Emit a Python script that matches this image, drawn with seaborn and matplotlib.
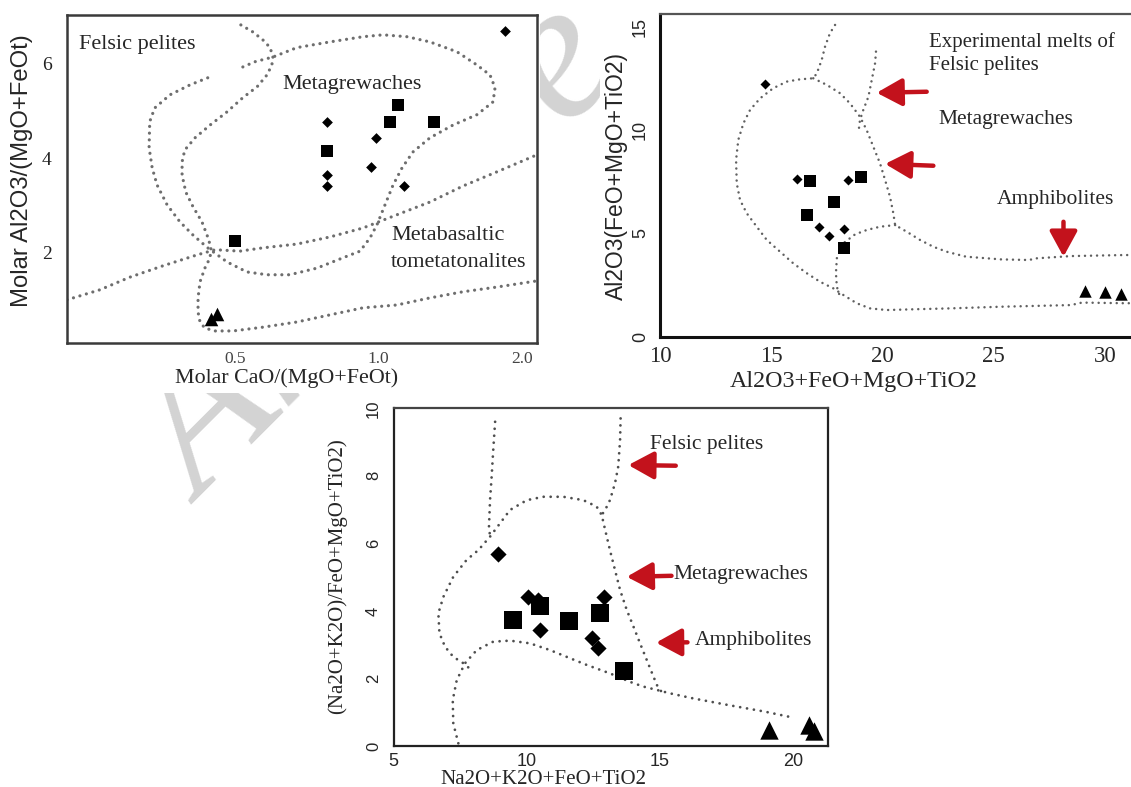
import numpy as np
import pandas as pd
import matplotlib
matplotlib.use("Agg")
import matplotlib.pyplot as plt
from matplotlib.patches import Rectangle
from matplotlib.ticker import NullLocator
import seaborn as sns

sns.set_style("white")
plt.rcParams["font.family"] = ["Liberation Serif", "DejaVu Serif"]

# ---------------- panel 1 : molar CaO/(MgO+FeOt) vs molar Al2O3/(MgO+FeOt)
p1_dia_x = [1.84, 0.778, 0.778, 0.778, 0.988, 0.962, 1.130]
p1_dia_y = [6.69, 4.77, 3.64, 3.40, 4.42, 3.82, 3.40]
p1_sq_x = [1.096, 1.056, 1.306, 0.780, 0.500]
p1_sq_y = [5.13, 4.76, 4.77, 4.16, 2.25]
p1_tri_x = [0.445, 0.458]
p1_tri_y = [0.60, 0.70]

# metagreywacke field (nearly closed loop)
p1_loop_x = [0.438, 0.402, 0.365, 0.339, 0.331, 0.330, 0.335, 0.343, 0.360, 0.383,
             0.408, 0.438, 0.481, 0.529, 0.583, 0.651, 0.742, 0.842, 0.914, 0.959,
             0.992, 1.031, 1.072, 1.119, 1.180, 1.281, 1.432, 1.608, 1.737, 1.754,
             1.712, 1.608, 1.460, 1.281, 1.147, 1.021, 0.927, 0.790, 0.674, 0.600,
             0.550, 0.519]
p1_loop_y = [5.70, 5.55, 5.34, 5.06, 4.77, 4.22, 3.79, 3.43, 3.01, 2.65,
             2.37, 2.10, 1.80, 1.59, 1.53, 1.53, 1.67, 1.89, 2.03, 2.31,
             2.59, 3.01, 3.43, 3.79, 4.13, 4.43, 4.70, 4.92, 5.19, 5.49,
             5.76, 5.97, 6.25, 6.46, 6.57, 6.61, 6.57, 6.46, 6.34, 6.14,
             6.04, 5.93]
# felsic pelite / amphibolite boundary
p1_l1_x = [0.514, 0.545, 0.572, 0.592, 0.600, 0.597, 0.583, 0.556, 0.519, 0.481,
           0.443, 0.412, 0.392, 0.387, 0.387, 0.394, 0.408, 0.426, 0.438, 0.445,
           0.443, 0.432, 0.422, 0.418, 0.418, 0.422, 0.432, 0.454, 0.495, 0.572,
           0.674, 0.790, 0.927, 1.092, 1.281, 1.503, 1.771, 2.148]
p1_l1_y = [6.82, 6.67, 6.50, 6.34, 6.14, 5.97, 5.76, 5.51, 5.28, 4.98,
           4.70, 4.43, 4.17, 3.92, 3.64, 3.28, 2.97, 2.65, 2.33, 2.10,
           1.89, 1.67, 1.38, 1.04, 0.74, 0.53, 0.40, 0.34, 0.34, 0.42,
           0.53, 0.68, 0.83, 0.89, 1.04, 1.17, 1.27, 1.40]
# metabasalt upper line
p1_mb_x = [0.222, 0.260, 0.301, 0.353, 0.416, 0.454, 0.512, 0.572, 0.674, 0.790,
           0.927, 1.092, 1.281, 1.503, 1.771, 2.148]
p1_mb_y = [1.00, 1.21, 1.48, 1.72, 1.95, 2.06, 2.03, 2.10, 2.18, 2.33,
           2.52, 2.80, 3.07, 3.41, 3.71, 4.07]

# ---------------- panel 2 : Al2O3+FeO+MgO+TiO2 vs Al2O3/(FeO+MgO+TiO2)
p2_dia_x = [14.72, 16.17, 18.47, 17.15, 17.61, 18.29]
p2_dia_y = [12.23, 7.61, 7.58, 5.29, 4.87, 5.21]
p2_sq_x = [16.74, 19.04, 17.82, 16.62, 18.29]
p2_sq_y = [7.55, 7.71, 6.53, 5.89, 4.28]
p2_tri_x = [29.12, 30.02, 30.73]
p2_tri_y = [2.21, 2.15, 2.07]

p2_outer_x = [17.87, 17.64, 17.42, 17.27, 17.05, 16.89, 16.29, 15.70, 15.09, 14.50,
              14.05, 13.75, 13.52, 13.42, 13.45, 13.60, 13.90, 14.35, 14.80, 15.40,
              15.99, 16.60, 17.19, 17.79, 18.24, 18.84, 19.44, 20.19, 21.54, 23.04,
              25.33, 28.48, 28.97, 30.86, 31.60]
p2_outer_y = [15.08, 14.68, 14.03, 13.39, 12.74, 12.50, 12.45, 12.34, 12.02, 11.53,
              10.97, 10.32, 9.52, 8.55, 7.42, 6.61, 5.97, 5.32, 4.68, 4.11,
              3.55, 3.07, 2.66, 2.34, 2.02, 1.62, 1.37, 1.29, 1.33, 1.37,
              1.45, 1.53, 1.65, 1.62, 1.62]
p2_diag_x = [16.89, 17.50, 18.09, 18.54, 18.99, 19.29, 19.59, 19.89, 20.12, 20.34,
             20.49, 20.57, 21.09, 21.69, 22.29, 22.89, 23.76, 25.33, 26.59, 26.91,
             28.48, 30.86, 31.60]
p2_diag_y = [12.50, 12.18, 11.78, 11.29, 10.64, 10.00, 9.19, 8.39, 7.58, 6.77,
             5.97, 5.40, 5.08, 4.68, 4.35, 4.11, 3.87, 3.74, 3.71, 3.79,
             3.90, 3.95, 3.95]
p2_inner_x = [20.57, 19.89, 19.29, 18.77, 18.24, 17.95, 17.91, 17.95, 18.09]
p2_inner_y = [5.40, 5.32, 5.16, 4.95, 4.52, 3.79, 3.07, 2.42, 1.94]
p2_right_x = [19.71, 19.67, 19.52, 19.37, 19.14, 18.99, 18.93]
p2_right_y = [13.79, 13.23, 12.42, 11.61, 10.97, 10.48, 9.95]

# ---------------- panel 3 : Na2O+K2O+FeO+TiO2 vs (Na2O+K2O)/(FeO+MgO+TiO2)
p3_dia_x = [8.93, 10.06, 10.41, 10.50, 12.44, 12.69, 12.91]
p3_dia_y = [5.69, 4.40, 4.32, 3.43, 3.19, 2.89, 4.40]
p3_sq_x = [9.49, 10.50, 11.59, 12.75, 13.66]
p3_sq_y = [3.73, 4.15, 3.71, 3.95, 2.23]
p3_tri_x = [19.09, 20.59, 20.79]
p3_tri_y = [0.47, 0.62, 0.45]

p3_v1_x = [8.81, 8.74, 8.68, 8.62, 8.58, 8.62]
p3_v1_y = [9.60, 8.77, 7.98, 7.29, 6.50, 6.20]
p3_v2_x = [13.52, 13.50, 13.43, 13.31, 13.12, 12.94, 12.81]
p3_v2_y = [9.70, 9.06, 8.27, 7.78, 7.28, 6.99, 6.84]
p3_meta_x = [7.80, 7.62, 7.24, 6.93, 6.72, 6.68, 6.87, 7.24, 7.74, 8.18,
             8.62, 8.99, 9.37, 10.00, 10.62, 11.37, 12.12, 12.62, 12.81, 12.94,
             13.12, 13.31, 13.50, 13.75, 14.00, 14.25, 14.50, 14.75, 14.94, 15.10]
p3_meta_y = [2.33, 2.45, 2.64, 2.94, 3.34, 3.93, 4.42, 5.01, 5.51, 5.80,
             6.20, 6.59, 6.99, 7.28, 7.38, 7.38, 7.28, 7.09, 6.84, 6.40,
             5.80, 5.21, 4.62, 4.03, 3.54, 3.04, 2.55, 2.06, 1.70, 1.58]
p3_amph_x = [7.43, 7.24, 7.22, 7.37, 7.68, 8.12, 8.74, 9.37, 10.12, 10.87,
             11.62, 12.25, 13.12, 13.87, 14.37, 14.88, 15.37, 16.24, 17.58, 18.92,
             20.00]
p3_amph_y = [0.08, 0.67, 1.36, 1.95, 2.45, 2.84, 3.09, 3.12, 3.04, 2.84,
             2.60, 2.40, 2.15, 1.90, 1.76, 1.66, 1.56, 1.41, 1.21, 1.02,
             0.84]

W, H = 1131.0, 787.0


def box(l, t, r, b):
    return [l / W, 1 - b / H, (r - l) / W, (b - t) / H]


def dotted(ax, xs, ys, lw, gap, color):
    sns.lineplot(x=xs, y=ys, ax=ax, sort=False, estimator=None, color=color,
                 lw=lw, linestyle=(0, (0.01, gap)), dash_capstyle="round", zorder=2)


def pts(ax, xs, ys, marker, s):
    sns.scatterplot(x=xs, y=ys, ax=ax, marker=marker, s=s, color="black",
                    linewidth=0, legend=False, zorder=4)


def red_arrow(ax, tail, head):
    ax.annotate("", xy=head, xytext=tail, zorder=5,
                arrowprops=dict(arrowstyle="-|>,head_length=0.55,head_width=0.3",
                                color="#c3121c", lw=3.2, mutation_scale=28,
                                shrinkA=0, shrinkB=0))


fig = plt.figure(figsize=(11.31, 7.87), dpi=100)

# faint watermark sitting behind the three pasted figures
fig.text(202 / W, 1 - 505 / H, "Archive", rotation=45, rotation_mode="anchor",
         ha="left", va="baseline", fontsize=142, style="italic", color="#d3d3d3",
         zorder=-3)
for l, t, r, b in [(0, 0, 540, 393), (600, 18, 1131, 400), (318, 393, 880, 787)]:
    fig.add_artist(Rectangle((l / W, 1 - b / H), (r - l) / W, (b - t) / H,
                             transform=fig.transFigure, facecolor="white",
                             edgecolor="none", zorder=-2))

# ---------- panel 1
ax1 = fig.add_axes(box(67, 15, 537, 343))
ax1.set_xscale("log")
dotted(ax1, p1_loop_x, p1_loop_y, 2.3, 2.1, "#6e6e6e")
dotted(ax1, p1_l1_x, p1_l1_y, 2.3, 2.1, "#6e6e6e")
dotted(ax1, p1_mb_x, p1_mb_y, 2.3, 2.1, "#6e6e6e")
pts(ax1, p1_dia_x, p1_dia_y, "D", 30)
pts(ax1, p1_sq_x, p1_sq_y, "s", 68)
pts(ax1, p1_tri_x, p1_tri_y, "^", 95)
ax1.set_xlim(0.222, 2.148)
ax1.set_ylim(0.085, 7.03)
ax1.set_xticks([0.5, 1.0, 2.0])
ax1.set_xticklabels(["0.5", "1.0", "2.0"], fontsize=12.5, color="#444")
ax1.xaxis.set_minor_locator(NullLocator())
ax1.set_yticks([2, 4, 6])
ax1.set_yticklabels(["2", "4", "6"], fontsize=14, color="#222")
ax1.tick_params(direction="out", length=3, width=1, color="#777")
ax1.tick_params(axis="y", pad=8)
ax1.tick_params(axis="x", pad=3)
for sp in ax1.spines.values():
    sp.set_color("#3a3a3a")
    sp.set_linewidth(1.8)
ax1.set_xlabel("Molar CaO/(MgO+FeOt)", fontsize=15.8)
ax1.xaxis.set_label_coords(0.467, -0.107)
ax1.xaxis.label.set_va("center")
ax1.set_ylabel("Molar Al2O3/(MgO+FeOt)", fontsize=17.2, family="Liberation Sans")
ax1.yaxis.set_label_coords(-0.096, 0.527)
ax1.yaxis.label.set_va("center")
ax1.text(0.2347, 6.45, "Felsic pelites", fontsize=16, ha="left", va="center_baseline")
ax1.text(0.627, 5.62, "Metagrewaches", fontsize=16, ha="left", va="center_baseline")
ax1.text(1.061, 2.41, "Metabasaltic", fontsize=16, ha="left", va="center_baseline")
ax1.text(1.061, 1.84, "tometatonalites", fontsize=16, ha="left", va="center_baseline")

# ---------- panel 2
ax2 = fig.add_axes(box(660, 14, 1140, 336.7))
dotted(ax2, p2_outer_x, p2_outer_y, 1.8, 2.4, "#606060")
dotted(ax2, p2_diag_x, p2_diag_y, 1.8, 2.4, "#606060")
dotted(ax2, p2_inner_x, p2_inner_y, 1.8, 2.4, "#606060")
dotted(ax2, p2_right_x, p2_right_y, 1.8, 2.4, "#606060")
pts(ax2, p2_dia_x, p2_dia_y, "D", 26)
pts(ax2, p2_sq_x, p2_sq_y, "s", 68)
pts(ax2, p2_tri_x, p2_tri_y, "^", 80)
red_arrow(ax2, (21.99, 11.85), (19.74, 11.80))
red_arrow(ax2, (22.29, 8.27), (20.12, 8.36))
red_arrow(ax2, (28.14, 5.56), (28.14, 3.87))
ax2.set_xlim(10, 31.58)
ax2.set_ylim(0, 15.61)
ax2.set_xticks([10, 15, 20, 25, 30])
ax2.set_xticklabels(["10", "15", "20", "25", "30"], fontsize=16.5)
ax2.set_yticks([0, 5, 10, 15])
ax2.set_yticklabels(["0", "5", "10", "15"], rotation=90, va="center",
                    fontsize=13, family="Liberation Sans")
ax2.tick_params(direction="out", length=5, width=1.5, color="#222")
ax2.tick_params(axis="x", pad=2)
ax2.tick_params(axis="y", pad=3)
ax2.spines["left"].set_linewidth(2.2)
ax2.spines["bottom"].set_linewidth(2.2)
ax2.spines["left"].set_color("#111")
ax2.spines["bottom"].set_color("#111")
ax2.spines["top"].set_color("#555")
ax2.spines["top"].set_linewidth(1.6)
ax2.spines["right"].set_visible(False)
ax2.set_xlabel("Al2O3+FeO+MgO+TiO2", fontsize=17.3)
ax2.xaxis.set_label_coords(0.4035, -0.139)
ax2.xaxis.label.set_va("center")
ax2.set_ylabel("Al2O3(FeO+MgO+TiO2)", fontsize=16.5, family="Liberation Sans")
ax2.yaxis.set_label_coords(-0.09, 0.4986)
ax2.yaxis.label.set_va("center")
ax2.text(22.10, 14.39, "Experimental melts of", fontsize=15, ha="left", va="center_baseline")
ax2.text(22.10, 13.23, "Felsic pelites", fontsize=15, ha="left", va="center_baseline")
ax2.text(22.53, 10.61, "Metagrewaches", fontsize=15.5, ha="left", va="center_baseline")
ax2.text(25.14, 6.77, "Amphibolites", fontsize=15.5, ha="left", va="center_baseline")

# ---------- panel 3
ax3 = fig.add_axes(box(393.6, 408.3, 827.9, 746))
dotted(ax3, p3_v1_x, p3_v1_y, 2.0, 2.5, "#4e4e4e")
dotted(ax3, p3_v2_x, p3_v2_y, 2.0, 2.5, "#4e4e4e")
dotted(ax3, p3_meta_x, p3_meta_y, 2.0, 2.5, "#4e4e4e")
dotted(ax3, p3_amph_x, p3_amph_y, 2.0, 2.5, "#4e4e4e")
pts(ax3, p3_dia_x, p3_dia_y, "D", 68)
pts(ax3, p3_sq_x, p3_sq_y, "s", 150)
pts(ax3, p3_tri_x, p3_tri_y, "^", 175)
red_arrow(ax3, (15.59, 8.30), (13.81, 8.32))
red_arrow(ax3, (15.43, 5.04), (13.75, 5.01))
red_arrow(ax3, (16.03, 3.07), (14.85, 3.06))
ax3.set_xlim(5, 21.3)
ax3.set_ylim(0, 10)
ax3.set_xticks([5, 10, 15, 20])
ax3.set_xticklabels(["5", "10", "15", "20"], fontsize=13, family="Liberation Sans")
ax3.set_yticks([0, 2, 4, 6, 8, 10])
ax3.set_yticklabels(["0", "2", "4", "6", "8", "10"], rotation=90, va="center",
                    fontsize=12, family="Liberation Sans")
ax3.tick_params(direction="out", length=4, width=1.3, color="#222")
ax3.tick_params(axis="y", pad=5)
ax3.tick_params(axis="x", pad=1)
for sp in ax3.spines.values():
    sp.set_color("#222")
    sp.set_linewidth(1.6)
ax3.spines["top"].set_color("#444")
ax3.set_xlabel("Na2O+K2O+FeO+TiO2", fontsize=15.1)
ax3.xaxis.set_label_coords(0.344, -0.098)
ax3.xaxis.label.set_va("center")
ax3.set_ylabel("(Na2O+K2O)/FeO+MgO+TiO2)", fontsize=15)
ax3.yaxis.set_label_coords(-0.129, 0.502)
ax3.yaxis.label.set_va("center")
ax3.text(14.62, 9.01, "Felsic pelites", fontsize=15.5, ha="left", va="center_baseline")
ax3.text(15.50, 5.16, "Metagrewaches", fontsize=15.5, ha="left", va="center_baseline")
ax3.text(16.30, 3.19, "Amphibolites", fontsize=15.5, ha="left", va="center_baseline")

fig.savefig("out.png", dpi=100)
